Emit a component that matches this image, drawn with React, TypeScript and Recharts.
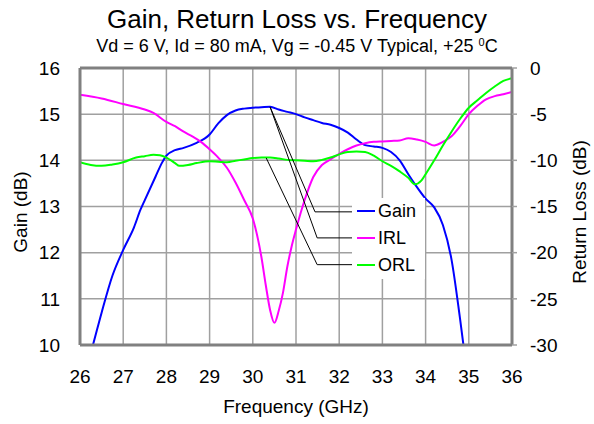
import React from 'react';
import { LineChart, Line, XAxis, YAxis, CartesianGrid, ReferenceLine } from 'recharts';

const FONT = '"Liberation Sans", Arial, sans-serif';
const FRAME = '#808080';
const GRID = '#a0a0a0';

// frequency ticks (GHz) and axis ticks
const freqTicks = [26, 27, 28, 29, 30, 31, 32, 33, 34, 35, 36];
const gainTicks = [10, 11, 12, 13, 14, 15, 16];
const rlTicks = [-30, -25, -20, -15, -10, -5, 0];

// Gain (dB), left axis
const gainFreq = [26.0, 26.3, 26.5, 26.75, 27.0, 27.25, 27.4, 27.5, 27.75, 27.9, 28.0, 28.2, 28.4, 28.7, 28.9, 29.0, 29.2, 29.4, 29.6, 29.8, 30.0, 30.2, 30.4, 30.6, 30.8, 31.0, 31.2, 31.4, 31.6, 31.8, 32.0, 32.2, 32.4, 32.6, 32.8, 33.0, 33.2, 33.4, 33.6, 33.8, 34.0, 34.2, 34.4, 34.6, 34.8, 35.0];
const gainDb = [9.0, 10.0, 10.7, 11.5, 12.06, 12.55, 12.93, 13.14, 13.65, 13.95, 14.1, 14.22, 14.27, 14.38, 14.48, 14.56, 14.8, 14.98, 15.08, 15.12, 15.14, 15.15, 15.16, 15.1, 15.05, 15.0, 14.93, 14.87, 14.81, 14.77, 14.7, 14.6, 14.45, 14.33, 14.3, 14.27, 14.18, 14.0, 13.7, 13.42, 13.17, 12.98, 12.6, 11.85, 10.55, 9.1];

// Input return loss (dB), right axis
const irlFreq = [26.0, 26.5, 27.0, 27.5, 27.7, 28.0, 28.2, 28.4, 28.6, 28.8, 29.0, 29.2, 29.4, 29.6, 29.8, 30.0, 30.2, 30.3, 30.4, 30.5, 30.6, 30.7, 30.8, 30.9, 31.0, 31.2, 31.4, 31.6, 31.8, 32.0, 32.2, 32.4, 32.6, 32.8, 33.0, 33.2, 33.4, 33.6, 33.8, 34.0, 34.2, 34.4, 34.6, 34.8, 35.0, 35.2, 35.4, 35.6, 35.8, 36.0];
const irlDb = [-2.9, -3.3, -3.9, -4.5, -4.87, -5.84, -6.3, -6.9, -7.4, -8.0, -8.8, -9.7, -10.8, -12.4, -14.3, -16.3, -20.5, -23.5, -26.2, -27.6, -26.3, -24.3, -21.5, -19.3, -17.5, -14.3, -11.8, -10.5, -9.9, -9.3, -8.8, -8.4, -8.15, -8.0, -7.95, -7.9, -7.85, -7.6, -7.75, -8.0, -8.4, -8.0, -7.4, -6.3, -5.0, -4.1, -3.4, -3.05, -2.85, -2.6];

// Output return loss (dB), right axis
const orlFreq = [26.0, 26.25, 26.5, 26.75, 27.0, 27.3, 27.5, 27.7, 27.85, 28.0, 28.2, 28.3, 28.5, 28.7, 29.0, 29.2, 29.4, 29.6, 29.8, 30.0, 30.2, 30.4, 30.6, 30.8, 31.0, 31.2, 31.4, 31.6, 31.8, 32.0, 32.2, 32.4, 32.6, 32.8, 33.0, 33.2, 33.4, 33.6, 33.75, 33.9, 34.0, 34.2, 34.4, 34.6, 34.8, 35.0, 35.2, 35.4, 35.6, 35.8, 36.0];
const orlDb = [-10.2, -10.5, -10.6, -10.45, -10.2, -9.7, -9.55, -9.4, -9.45, -9.7, -10.3, -10.6, -10.5, -10.3, -10.1, -10.15, -10.2, -10.05, -9.9, -9.75, -9.7, -9.7, -9.8, -9.95, -10.0, -10.05, -10.1, -9.95, -9.7, -9.35, -9.1, -9.05, -9.1, -9.5, -10.1, -10.6, -11.2, -11.9, -12.6, -12.2, -11.5, -10.0, -8.4, -6.9, -5.5, -4.3, -3.5, -2.7, -2.0, -1.4, -1.1];

// leader lines from curves to legend, in (GHz, return-loss dB)
const leaders = [
  [{ x: 30.4, y: -4.22 }, { x: 31.44, y: -15.58 }, { x: 32.3, y: -15.58 }],
  [{ x: 30.4, y: -4.22 }, { x: 31.49, y: -18.4 }, { x: 32.3, y: -18.4 }],
  [{ x: 30.31, y: -9.74 }, { x: 31.49, y: -21.3 }, { x: 32.3, y: -21.3 }],
];

const legendItems = [
  { name: 'Gain', color: '#0000ff' },
  { name: 'IRL', color: '#ff00ff' },
  { name: 'ORL', color: '#00ff00' },
];

const zip = (fs: number[], vs: number[]) => fs.map((f, i) => ({ f, v: vs[i] }));

const tickStyle = { fontFamily: FONT, fontSize: 19, fill: '#000' };

export default function App() {
  const gainData = zip(gainFreq, gainDb);
  const irlData = zip(irlFreq, irlDb);
  const orlData = zip(orlFreq, orlDb);

  return (
    <div style={{ position: 'absolute', left: 0, top: 0, width: 594, height: 424, background: '#fff' }}>
      <LineChart width={594} height={424} margin={{ top: 68, right: 22, bottom: 49, left: 20 }}>
        <CartesianGrid yAxisId="left" stroke={GRID} strokeWidth={1.5} />
        <XAxis
          type="number"
          dataKey="f"
          domain={[26, 36]}
          ticks={freqTicks}
          height={30}
          tick={tickStyle}
          tickLine={false}
          tickSize={6}
          tickMargin={19}
          axisLine={{ stroke: FRAME, strokeWidth: 3 }}
          allowDataOverflow
        />
        <YAxis
          yAxisId="left"
          domain={[10, 16]}
          ticks={gainTicks}
          width={60}
          tick={tickStyle}
          tickLine={false}
          tickSize={6}
          tickMargin={14}
          axisLine={{ stroke: FRAME, strokeWidth: 3 }}
          allowDataOverflow
        />
        <YAxis
          yAxisId="right"
          orientation="right"
          domain={[-30, 0]}
          ticks={rlTicks}
          width={60}
          tick={tickStyle}
          tickLine={{ stroke: GRID, strokeWidth: 1.5 }}
          tickSize={5}
          tickMargin={13}
          axisLine={{ stroke: FRAME, strokeWidth: 3 }}
          allowDataOverflow
        />
        <ReferenceLine yAxisId="left" y={16} stroke={FRAME} strokeWidth={3} />
        <Line yAxisId="left" data={gainData} dataKey="v" type="monotone" stroke="#0000ff" strokeWidth={2} dot={false} isAnimationActive={false} />
        <Line yAxisId="right" data={irlData} dataKey="v" type="monotone" stroke="#ff00ff" strokeWidth={2} dot={false} isAnimationActive={false} />
        <Line yAxisId="right" data={orlData} dataKey="v" type="monotone" stroke="#00ff00" strokeWidth={2} dot={false} isAnimationActive={false} />
        {leaders.map((pts, i) => (
          <React.Fragment key={i}>
            <ReferenceLine yAxisId="right" segment={[pts[0], pts[1]]} stroke="#000" strokeWidth={1} />
            <ReferenceLine yAxisId="right" segment={[pts[1], pts[2]]} stroke="#000" strokeWidth={1} />
          </React.Fragment>
        ))}
      </LineChart>

      <svg width={594} height={424} style={{ position: 'absolute', left: 0, top: 0, pointerEvents: 'none' }} fontFamily={FONT}>
        <text x={297} y={28} fontSize={26} textAnchor="middle">Gain, Return Loss vs. Frequency</text>
        <text x={297} y={52} fontSize={18} textAnchor="middle">
          Vd = 6 V, Id = 80 mA, Vg = -0.45 V Typical, +25 <tspan fontSize={11} dy={-6}>0</tspan><tspan dy={6}>C</tspan>
        </text>
        <text x={296} y={413} fontSize={19} textAnchor="middle">Frequency (GHz)</text>
        <text x={27} y={212} fontSize={19} textAnchor="middle" transform="rotate(-90 27 212)">Gain (dB)</text>
        <text x={586} y={212} fontSize={19} textAnchor="middle" transform="rotate(-90 586 212)">Return Loss (dB)</text>

        <rect x={352} y={198} width={73} height={81} fill="#fff" />
        {legendItems.map((it, i) => {
          const cy = 211 + i * 27;
          return (
            <g key={it.name}>
              <line x1={357} x2={375} y1={cy} y2={cy} stroke={it.color} strokeWidth={2} />
              <text x={378} y={cy + 6} fontSize={18}>{it.name}</text>
            </g>
          );
        })}
      </svg>
    </div>
  );
}
